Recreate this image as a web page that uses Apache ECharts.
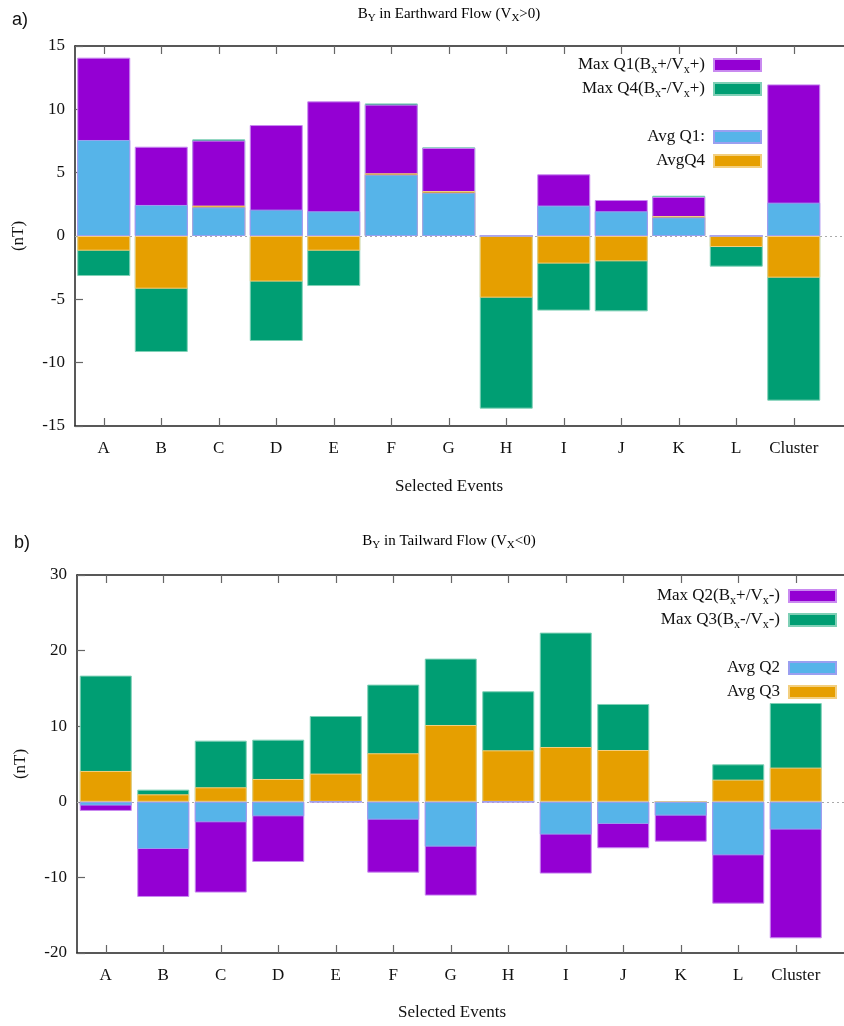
<!DOCTYPE html>
<html>
<head>
<meta charset="utf-8">
<script src="https://cdn.jsdelivr.net/npm/echarts@6/dist/echarts.min.js"></script>
<style>
  html, body { margin: 0; padding: 0; background: #ffffff; }
  #chart { width: 844px; height: 1026px; }
</style>
</head>
<body>
<div id="chart"></div>
<script>
// Event labels shared by both panels
const categories = ['A', 'B', 'C', 'D', 'E', 'F', 'G', 'H', 'I', 'J', 'K', 'L', 'Cluster'];

// Panel a: B_Y in earthward flow (Vx > 0), nT
const earthMaxQ1 = [14.08, 7.05, 7.53, 8.76, 10.63, 10.37, 6.95, 0, 4.87, 2.84, 3.08, 0, 11.97];
const earthMaxQ4 = [-3.16, -9.16, 7.63, -8.29, -3.95, 10.47, 7.0, -13.63, -5.89, -5.95, 3.18, -2.42, -13.0];
const earthAvgQ1 = [7.58, 2.45, 2.26, 2.08, 1.95, 4.84, 3.42, 0, 2.4, 1.95, 1.47, 0, 2.63];
const earthAvgQ4 = [-1.16, -4.16, 2.4, -3.6, -1.16, 4.95, 3.55, -4.87, -2.18, -2.0, 1.58, -0.87, -3.29];

// Panel b: B_Y in tailward flow (Vx < 0), nT
const tailMaxQ2 = [-1.21, -12.59, -12.01, -7.96, 0, -9.37, -12.41, 0, -9.5, -6.15, -5.27, -13.47, -18.06];
const tailMaxQ3 = [16.69, 1.61, 8.09, 8.22, 11.35, 15.5, 18.94, 14.62, 22.38, 12.94, 0, 4.96, 13.07];
const tailAvgQ2 = [-0.5, -6.24, -2.71, -1.92, 0, -2.36, -5.93, 0, -4.34, -2.93, -1.83, -7.08, -3.68];
const tailAvgQ3 = [4.08, 0.99, 1.92, 3.02, 3.73, 6.42, 10.16, 6.81, 7.25, 6.85, 0, 2.93, 4.52];

// Y-axis ticks
const earthTicks = { min: -15, max: 15, step: 5 };
const tailTicks = { min: -20, max: 30, step: 10 };

const SERIF = '"Liberation Serif", "Times New Roman", serif';
const COLORS = {
  purple: { fill: '#9400d3', edge: '#c98af0' },
  green: { fill: '#009e73', edge: '#7fd0b6' },
  blue: { fill: '#56b4e9', edge: '#9a9ff0' },
  orange: { fill: '#e69f00', edge: '#f3cf7f' }
};

// Rich-text labels with subscripts
const RICH = {
  t: { fontFamily: SERIF, fontSize: 17, color: '#111' },
  s: { fontFamily: SERIF, fontSize: 12, color: '#111', padding: [9, 0, 0, 0] }
};
const LEGEND_TEXT = {
  'Max Q1(Bx+/Vx+)': '{t|Max Q1(B}{s|x}{t|+/V}{s|x}{t|+)}',
  'Max Q4(Bx-/Vx+)': '{t|Max Q4(B}{s|x}{t|-/V}{s|x}{t|+)}',
  'Avg Q1:': '{t|Avg Q1:}',
  'AvgQ4': '{t|AvgQ4}',
  'Max Q2(Bx+/Vx-)': '{t|Max Q2(B}{s|x}{t|+/V}{s|x}{t|-)}',
  'Max Q3(Bx-/Vx-)': '{t|Max Q3(B}{s|x}{t|-/V}{s|x}{t|-)}',
  'Avg Q2': '{t|Avg Q2}',
  'Avg Q3': '{t|Avg Q3}'
};

const tickIdx = categories.map((_, i) => i);
const STEP = 57.5; // pixels per event slot

// The plot frame runs to the right edge of the page; the x range is sized so each slot is STEP wide
function xMaxFor(left) { return (844 - left) / STEP - 0.5; }

function xAxesFor(gridIndex, left) {
  const common = {
    gridIndex: gridIndex,
    type: 'value',
    min: -0.5,
    max: xMaxFor(left),
    splitLine: { show: false },
    axisLine: { show: true, onZero: false, lineStyle: { color: '#222', width: 1.5 } },
    axisTick: { show: true, inside: true, length: 8, customValues: tickIdx, lineStyle: { color: '#666', width: 1.2 } }
  };
  return [
    Object.assign({}, common, {
      position: 'bottom',
      axisLabel: {
        show: true, customValues: tickIdx, margin: 14,
        formatter: v => categories[Math.round(v)] || '',
        fontFamily: SERIF, fontSize: 17, color: '#111'
      }
    }),
    Object.assign({}, common, { position: 'top', axisLabel: { show: false } })
  ];
}

function yAxisFor(gridIndex, ticks) {
  return {
    gridIndex: gridIndex,
    type: 'value',
    min: ticks.min, max: ticks.max, interval: ticks.step,
    splitLine: { show: false },
    axisLine: { show: true, onZero: false, lineStyle: { color: '#222', width: 1.5 } },
    axisTick: { show: true, inside: true, length: 8, lineStyle: { color: '#666', width: 1.2 } },
    axisLabel: { margin: 10, fontFamily: SERIF, fontSize: 17, color: '#111' },
    name: '(nT)', nameLocation: 'middle', nameGap: 48, nameRotate: 90,
    nameTextStyle: { fontFamily: SERIF, fontSize: 17, color: '#111' }
  };
}

function barSeries(name, values, color, axisIdx, width, withZeroLine) {
  const s = {
    name: name,
    type: 'bar',
    xAxisIndex: axisIdx,
    yAxisIndex: axisIdx / 2,
    barWidth: width,
    barGap: '-100%',
    data: values.map((v, i) => [i, v]),
    itemStyle: { color: color.fill, borderColor: color.edge, borderWidth: 1 },
    emphasis: { disabled: true }
  };
  if (withZeroLine) {
    s.markLine = {
      silent: true, z: 1, symbol: 'none', label: { show: false },
      lineStyle: { type: [2, 3], color: '#aaaaaa', width: 1 },
      data: [{ yAxis: 0 }]
    };
  }
  return s;
}

function legendFor(names, right, top) {
  return {
    data: names,
    orient: 'vertical',
    align: 'right',
    right: right, top: top,
    padding: 0,
    itemGap: 0,
    itemWidth: 47, itemHeight: 12,
    icon: 'rect',
    selectedMode: false,
    formatter: n => LEGEND_TEXT[n],
    textStyle: { lineHeight: 24, padding: [0, 4, 0, 0], rich: RICH }
  };
}

function titleText(x, y, parts) {
  return {
    type: 'text', x: x, y: y,
    style: {
      text: parts, align: 'center', verticalAlign: 'middle',
      rich: {
        t: { fontFamily: SERIF, fontSize: 15, color: '#111' },
        s: { fontFamily: SERIF, fontSize: 11, color: '#111', padding: [8, 0, 0, 0] }
      }
    }
  };
}

function plainText(x, y, text, font) {
  return {
    type: 'text', x: x, y: y,
    style: { text: text, font: font, fill: '#111', align: 'center', verticalAlign: 'middle' }
  };
}

const LEFT_A = 75;
const LEFT_B = 77;

const option = {
  animation: false,
  backgroundColor: '#ffffff',
  grid: [
    { left: LEFT_A, top: 46, right: 0, height: 380 },
    { left: LEFT_B, top: 575, right: 0, height: 378 }
  ],
  xAxis: xAxesFor(0, LEFT_A).concat(xAxesFor(1, LEFT_B)),
  yAxis: [yAxisFor(0, earthTicks), yAxisFor(1, tailTicks)],
  legend: [
    legendFor(['Max Q1(Bx+/Vx+)', 'Max Q4(Bx-/Vx+)'], 82, 53),
    legendFor(['Avg Q1:', 'AvgQ4'], 82, 125),
    legendFor(['Max Q2(Bx+/Vx-)', 'Max Q3(Bx-/Vx-)'], 7, 584),
    legendFor(['Avg Q2', 'Avg Q3'], 7, 656)
  ],
  series: [
    // panel a, drawn back to front
    barSeries('Max Q4(Bx-/Vx+)', earthMaxQ4, COLORS.green, 0, 53, true),
    barSeries('Max Q1(Bx+/Vx+)', earthMaxQ1, COLORS.purple, 0, 53, false),
    barSeries('AvgQ4', earthAvgQ4, COLORS.orange, 0, 53, false),
    barSeries('Avg Q1:', earthAvgQ1, COLORS.blue, 0, 53, false),
    // panel b, drawn back to front
    barSeries('Max Q3(Bx-/Vx-)', tailMaxQ3, COLORS.green, 2, 52, true),
    barSeries('Max Q2(Bx+/Vx-)', tailMaxQ2, COLORS.purple, 2, 52, false),
    barSeries('Avg Q3', tailAvgQ3, COLORS.orange, 2, 52, false),
    barSeries('Avg Q2', tailAvgQ2, COLORS.blue, 2, 52, false)
  ],
  graphic: [
    plainText(20, 20, 'a)', '18px "Liberation Sans", sans-serif'),
    plainText(22, 543, 'b)', '18px "Liberation Sans", sans-serif'),
    titleText(449, 14, '{t|B}{s|Y}{t| in Earthward Flow (V}{s|X}{t|>0)}'),
    titleText(449, 541, '{t|B}{s|Y}{t| in Tailward Flow (V}{s|X}{t|<0)}'),
    plainText(449, 487, 'Selected Events', '17px ' + SERIF),
    plainText(452, 1013, 'Selected Events', '17px ' + SERIF)
  ]
};

const chart = echarts.init(document.getElementById('chart'), null, { renderer: 'canvas' });
chart.setOption(option);
</script>
</body>
</html>
